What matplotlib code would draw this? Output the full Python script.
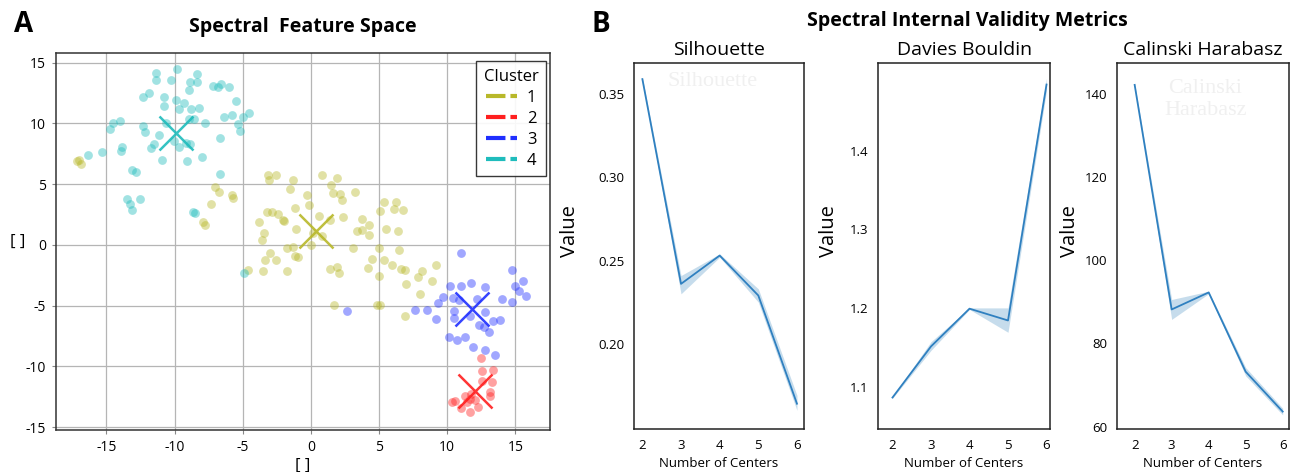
import matplotlib
matplotlib.use("Agg")
import matplotlib.pyplot as plt
from matplotlib.lines import Line2D

plt.rcParams['font.family'] = ['Open Sans', 'DejaVu Sans']
plt.rcParams['lines.scale_dashes'] = False

# --- Panel A: spectral embedding, one x/y list per cluster ---
cluster_names = ['1', '2', '3', '4']
cluster_colors = ['#b8b82a', '#ff1f1f', '#1f2fff', '#1fbcbc']

c1_x = [-17.0, -16.84, -17.13, -7.03, -6.72, -5.81, -5.74, -7.30, -7.93, -7.76,
        -3.17, -2.56, -3.07, -1.29, -1.54, 0.85, 1.95, 1.51, 1.63, 2.12, 2.29, 3.22,
        -0.32, -0.12, -1.17, -3.20, -2.88, -2.39, -2.07, -1.98, -3.78, 0.61, 1.39,
        2.32, -1.10, 0.12, 0.85, -3.44, -3.61, -0.02, -1.78, -1.29, -1.17, -0.93,
        -3.0, -3.37, -2.56, -4.59, -3.54, -1.73, 1.39, 1.88, 2.05, 3.10, 4.49, 4.20,
        4.98, 4.98, 5.37, 5.05, 6.27, 6.10, 6.76, 3.78, 4.27, 4.27, 3.41, 3.76, 5.49,
        6.39, 6.44, 5.37, 5.95, 6.59, 6.93, 7.0, 7.88, 8.17, 8.88, 9.20, 8.02, 1.68,
        4.88, 5.05, 6.93]
c1_y = [6.97, 6.64, 6.91, 4.77, 4.35, 4.10, 3.88, 3.39, 1.87, 1.59,
        5.77, 5.77, 5.30, 5.30, 4.56, 5.77, 5.52, 4.89, 4.29, 4.20, 3.71, 4.34,
        4.07, 3.30, 3.05, 2.69, 2.69, 2.50, 2.06, 1.92, 1.87, 2.36, 2.06,
        2.28, 1.26, 0.99, 0.69, 0.96, 0.41, -0.05, -0.27, -0.19, -0.96, -1.02,
        -0.69, -1.29, -1.24, -2.06, -2.17, -2.17, -1.98, -1.79, -2.31, -0.27, -1.15, -1.92,
        -2.53, -0.25, 3.52, 2.75, 3.52, 2.97, 2.88, 2.14, 1.65, 0.77, 1.10, 1.18, 1.26,
        1.13, -0.41, -1.29, -1.70, -1.98, -2.06, -3.21, -2.66, -2.17, -2.94, -1.65, -4.04, -4.95,
        -4.95, -4.95, -5.82]

c2_x = [12.48, 12.52, 13.38, 12.52, 13.26, 13.14, 13.14, 11.72, 11.67, 11.48,
        10.32, 10.56, 10.98, 11.67, 12.28, 12.04, 11.30]
c2_y = [-9.32, -10.41, -10.27, -11.23, -11.29, -12.14, -12.41, -12.25, -12.68, -12.96,
        -12.96, -12.82, -13.42, -13.78, -13.37, -12.74, -12.47]

c3_x = [11.0, 14.73, 15.54, 14.98, 15.29, 15.78, 14.73, 13.99, 10.20, 11.0, 11.72,
        12.77, 9.66, 9.29, 10.44, 10.88, 12.21, 7.60, 8.48, 9.17, 10.49, 10.49, 11.67,
        12.77, 12.35, 12.72, 13.06, 13.33, 13.87, 10.15, 10.69, 11.30, 11.91, 12.77,
        13.50, 2.68]
c3_y = [-0.68, -2.05, -3.01, -3.42, -3.84, -4.19, -4.74, -4.47, -3.42, -3.42, -3.15,
        -3.48, -4.30, -4.79, -4.38, -4.52, -4.47, -5.40, -5.40, -6.08, -5.48, -6.03, -5.84,
        -5.56, -6.58, -6.77, -7.21, -6.30, -6.22, -7.59, -7.86, -7.62, -8.41, -8.63,
        -9.04, -5.47]

c4_x = [-11.37, -11.37, -9.80, -8.36, -10.27, -8.85, -8.36, -8.92, -7.21, -6.84, -6.59,
        -6.03, -11.86, -12.30, -10.81, -9.90, -9.29, -10.81, -9.66, -8.80, -8.24, -5.49,
        -6.35, -5.78, -5.0, -4.56, -8.97, -8.55, -7.77, -5.37, -5.20, -14.0, -14.49,
        -14.75, -12.35, -12.16, -11.13, -10.64, -6.67, -10.02, -9.71, -8.85, -9.17,
        -11.50, -11.74, -13.87, -13.95, -15.29, -16.35, -10.93, -9.07, -8.01, -13.14,
        -12.84, -6.64, -13.50, -13.28, -13.14, -12.57, -8.63, -8.48, -4.9]
c4_y = [14.16, 13.53, 14.49, 14.08, 13.53, 13.39, 13.39, 12.75, 13.06, 12.98, 13.20,
        12.98, 12.48, 12.20, 12.15, 11.93, 11.65, 11.40, 11.18, 11.18, 11.24, 11.87,
        10.55, 10.72, 10.55, 10.83, 10.36, 10.36, 10.0, 9.94, 9.39, 10.22, 10.0,
        9.53, 9.81, 9.26, 9.04, 10.0, 8.79, 8.51, 8.02, 8.29, 8.35,
        8.29, 7.93, 8.02, 7.74, 7.60, 7.38, 6.97, 6.86, 7.19, 6.14,
        5.95, 5.81, 3.75, 3.33, 2.87, 3.75, 2.70, 2.59, -2.3]

centers_x = [0.41, 12.03, 11.84, -9.9]
centers_y = [1.10, -12.05, -5.26, 9.2]

axis_ticks = [-15, -10, -5, 0, 5, 10, 15]

# --- Panel B: internal validity metrics (mean and band limits) ---
n_centers = [2, 3, 4, 5, 6]

sil_mean = [0.359, 0.236, 0.253, 0.229, 0.164]
sil_lo = [0.358, 0.230, 0.252, 0.225, 0.160]
sil_hi = [0.360, 0.241, 0.254, 0.233, 0.169]

db_mean = [1.086, 1.151, 1.199, 1.184, 1.484]
db_lo = [1.085, 1.146, 1.198, 1.169, 1.476]
db_hi = [1.087, 1.157, 1.200, 1.200, 1.492]

ch_mean = [142.3, 88.2, 92.3, 73.2, 63.6]
ch_lo = [142.0, 85.8, 92.0, 72.2, 62.8]
ch_hi = [142.6, 90.6, 92.6, 74.2, 64.4]

sil_ticks = [0.20, 0.25, 0.30, 0.35]
db_ticks = [1.1, 1.2, 1.3, 1.4]
ch_ticks = [60, 80, 100, 120, 140]


def plot_feature_space(ax):
    """Scatter of the spectral embedding with cluster centres."""
    xs = [c1_x, c2_x, c3_x, c4_x]
    ys = [c1_y, c2_y, c3_y, c4_y]
    for x, y, color in zip(xs, ys, cluster_colors):
        ax.scatter(x, y, s=40, color=color, alpha=0.42, linewidths=0, zorder=3)
    for cx, cy, color in zip(centers_x, centers_y, cluster_colors):
        ax.plot(cx, cy, marker='x', markersize=24, mew=1.8, color=color,
                alpha=0.9, linestyle='none', zorder=4)

    ax.set_xlim(-18.7, 17.5)
    ax.set_ylim(-15.27, 15.8)
    ax.set_xticks(axis_ticks)
    ax.set_yticks(axis_ticks)
    ax.set_xticklabels([str(t) for t in axis_ticks])
    ax.set_yticklabels([str(t) for t in axis_ticks])
    ax.tick_params(labelsize=10, length=3, color='#888888', pad=4)
    ax.grid(True, color='#b5b5b5', linewidth=0.9, zorder=0)
    ax.set_axisbelow(True)
    for spine in ax.spines.values():
        spine.set_color('#333333')
        spine.set_linewidth(1.1)

    ax.set_title('Spectral  Feature Space', fontsize=14, fontweight='bold', pad=15)
    ax.set_xlabel('[ ]', fontsize=12, labelpad=2)
    ax.set_ylabel('[ ]', fontsize=12, rotation=0, labelpad=6, va='center')

    handles = [Line2D([], [], color=c, lw=3, linestyle=(0, (14, 3.6)))
               for c in cluster_colors]
    leg = ax.legend(handles, cluster_names, title='Cluster', loc='upper right',
                    bbox_to_anchor=(0.993, 0.978), borderaxespad=0, fontsize=12,
                    title_fontsize=12, handlelength=1.85, handletextpad=0.6,
                    labelspacing=0.3, borderpad=0.45, fancybox=False, framealpha=0.9,
                    edgecolor='#222222')
    leg.get_frame().set_linewidth(1.0)


def plot_metric(ax, mean, lo, hi, title, ticks, ylim, xlim, label_x):
    """Line with its band, seaborn style, for one validity metric."""
    ax.fill_between(n_centers, lo, hi, color='#1f77b4', alpha=0.25, linewidth=0)
    ax.plot(n_centers, mean, color='#2f80c0', linewidth=1.3)
    ax.set_xlim(*xlim)
    ax.set_ylim(*ylim)
    ax.set_xticks(n_centers)
    ax.set_yticks(ticks)
    ax.tick_params(length=0, labelsize=9.5, pad=7)
    for spine in ax.spines.values():
        spine.set_color('#222222')
        spine.set_linewidth(1.1)
    ax.set_title(title, fontsize=14, pad=6)
    ax.set_xlabel('Number of Centers', fontsize=9.5, labelpad=4)
    ax.set_ylabel('Value', fontsize=14.5)
    ax.yaxis.set_label_coords(label_x, 0.54)


fig = plt.figure(figsize=(13.04, 4.72), dpi=100)

ax_a = fig.add_axes([0.0429, 0.0883, 0.3785, 0.7998])
plot_feature_space(ax_a)

ax_sil = fig.add_axes([0.4864, 0.0911, 0.1301, 0.7748])
plot_metric(ax_sil, sil_mean, sil_lo, sil_hi, 'Silhouette', sil_ticks,
            (0.1488, 0.3685), (1.79, 6.18), -0.32)
ax_sil.set_yticklabels(['0.20', '0.25', '0.30', '0.35'])
ax_sil.text(0.46, 0.949, 'Silhouette', transform=ax_sil.transAxes, ha='center',
            va='center', fontsize=16, color='#f0f0f0', family='Liberation Serif')

ax_db = fig.add_axes([0.6735, 0.0911, 0.1317, 0.7748])
plot_metric(ax_db, db_mean, db_lo, db_hi, 'Davies Bouldin', db_ticks,
            (1.046, 1.511), (1.63, 6.09), -0.23)

ax_ch = fig.add_axes([0.8568, 0.0911, 0.1314, 0.7748])
plot_metric(ax_ch, ch_mean, ch_lo, ch_hi, 'Calinski Harabasz', ch_ticks,
            (59.4, 147.5), (1.53, 6.16), -0.22)
ax_ch.text(0.515, 0.90, 'Calinski\nHarabasz', transform=ax_ch.transAxes, ha='center',
           va='center', fontsize=16, color='#f0f0f0', family='Liberation Serif',
           linespacing=1.2)

# panel letters and the shared title of panel B
fig.text(24 / 1304, 1 - 25 / 472, 'A', fontsize=20, fontweight='bold', ha='center', va='center')
fig.text(601 / 1304, 1 - 25 / 472, 'B', fontsize=20, fontweight='bold', ha='center', va='center')
fig.text(967 / 1304, 1 - 21 / 472, 'Spectral Internal Validity Metrics', fontsize=14,
         fontweight='bold', ha='center', va='center')

fig.savefig('out.png', dpi=100)
